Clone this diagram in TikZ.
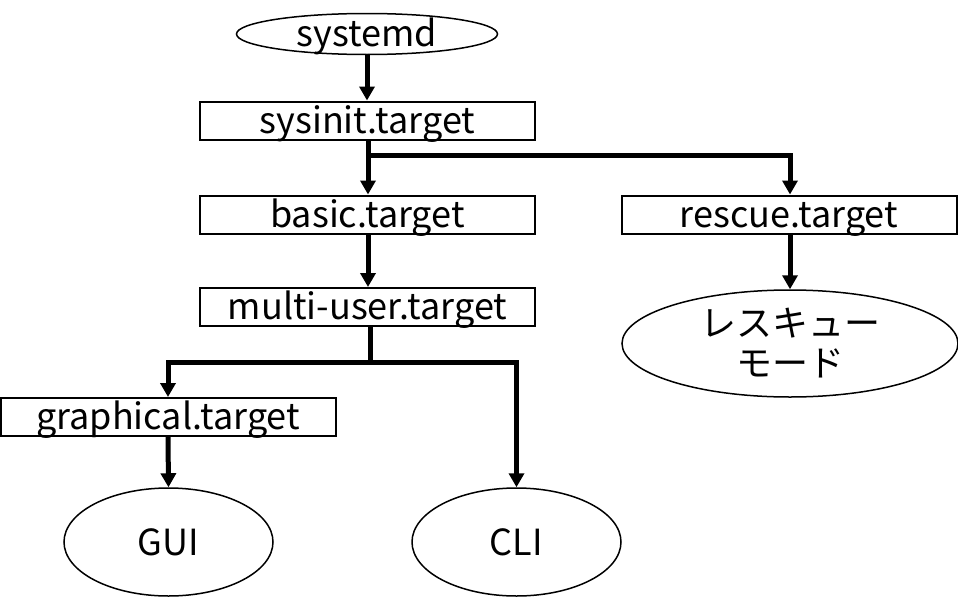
\documentclass[tikz,border=0pt]{standalone}
\usepackage{fontspec}
\setmainfont{Noto Sans CJK JP}
\usetikzlibrary{arrows.meta,shapes.geometric}
\tikzset{
  tbox/.style={draw=black,line width=2pt,rectangle,minimum width=335pt,minimum height=38pt,inner sep=0pt,text height=28pt,text depth=3pt,font=\fontsize{36}{40}\selectfont},
  oval/.style={draw=black,line width=1.5pt,ellipse,inner sep=0pt,font=\fontsize{36}{40}\selectfont,align=center},
  conn/.style={line width=5pt,-{Triangle[width=15pt,length=14pt]}},
  plain/.style={line width=5pt}
}
\begin{document}
\begin{tikzpicture}[x=1pt,y=-1pt]
\useasboundingbox (0,0) rectangle (958,597);
\node[oval,minimum width=261pt,minimum height=41pt,text height=24pt,text depth=0pt] (systemd) at (367,34) {systemd};
\node[tbox] (sysinit) at (367.5,120.5) {sysinit.target};
\node[tbox] (basic) at (367.5,214.5) {basic.target};
\node[tbox] (rescue) at (789,214.5) {rescue.target};
\node[tbox] (multi) at (367.5,307) {multi-user.target};
\node[tbox] (graph) at (168,417) {graphical.target};
\node[oval,minimum width=336pt,minimum height=107pt,inner ysep=-12pt] (rmode) at (790,343.5) {レスキュー\\モード};
\node[oval,minimum width=209pt,minimum height=108pt] (gui) at (168.5,542) {GUI};
\node[oval,minimum width=209pt,minimum height=108pt] (cli) at (516.5,542) {CLI};
\coordinate (b1) at (368,155);
\coordinate (b2) at (370,362);
\draw[conn] (systemd.south) -- (sysinit.north -| systemd.south);
\draw[plain] (sysinit.south -| b1) -- (b1);
\draw[conn] (b1) -- (basic.north -| b1);
\draw[conn] (b1) -| (rescue.north -| rmode.north);
\draw[conn] (rescue.south -| rmode.north) -- (rmode.north);
\draw[conn] (basic.south -| b1) -- (multi.north -| b1);
\draw[plain] (multi.south -| b2) -- (b2);
\draw[conn] (b2) -| (graph.north);
\draw[conn] (b2) -| (cli.north);
\draw[conn] (graph.south) -- (gui.north);
\end{tikzpicture}
\end{document}
